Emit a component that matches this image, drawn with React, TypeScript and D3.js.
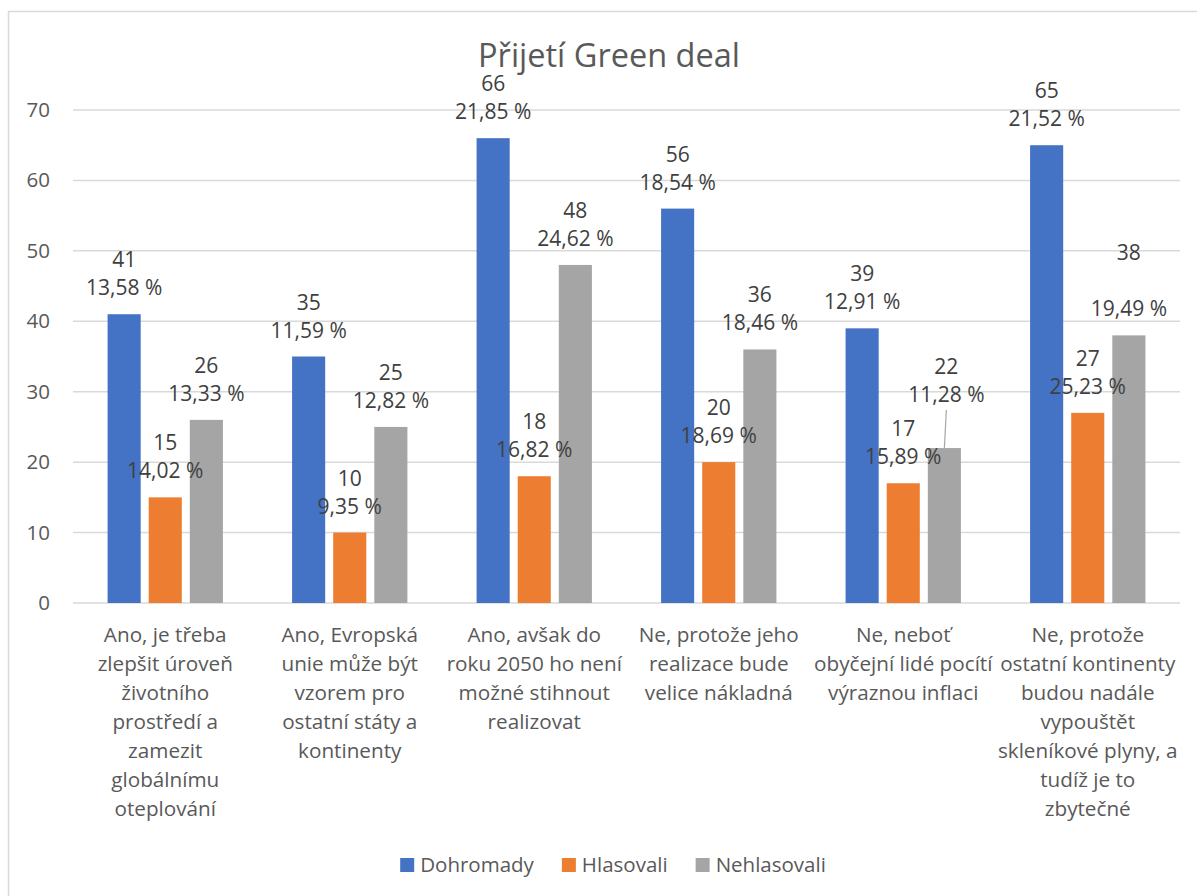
import React, { useEffect, useRef } from "react";
import * as d3 from "d3";

const title = "Přijetí Green deal";
const categories: string[][] = [
  ["Ano, je třeba", "zlepšit úroveň", "životního", "prostředí a", "zamezit", "globálnímu", "oteplování"],
  ["Ano, Evropská", "unie může být", "vzorem pro", "ostatní státy a", "kontinenty"],
  ["Ano, avšak do", "roku 2050 ho není", "možné stihnout", "realizovat"],
  ["Ne, protože jeho", "realizace bude", "velice nákladná"],
  ["Ne, neboť", "obyčejní lidé pocítí", "výraznou inflaci"],
  ["Ne, protože", "ostatní kontinenty", "budou nadále", "vypouštět", "skleníkové plyny, a", "tudíž je to", "zbytečné"],
];
const seriesNames = ["Dohromady", "Hlasovali", "Nehlasovali"];
const dohromady = [41, 35, 66, 56, 39, 65];
const hlasovali = [15, 10, 18, 20, 17, 27];
const nehlasovali = [26, 25, 48, 36, 22, 38];
const dohromadyPct = ["13,58 %", "11,59 %", "21,85 %", "18,54 %", "12,91 %", "21,52 %"];
const hlasovaliPct = ["14,02 %", "9,35 %", "16,82 %", "18,69 %", "15,89 %", "25,23 %"];
const nehlasovaliPct = ["13,33 %", "12,82 %", "24,62 %", "18,46 %", "11,28 %", "19,49 %"];
const yTicks = [0, 10, 20, 30, 40, 50, 60, 70];

const colors = ["#4472C4", "#ED7D31", "#A5A5A5"];
const textColor = "#595959";
const gridColor = "#d9d9d9";
const font = "'Open Sans', 'Noto Sans', sans-serif";

export default function App() {
  const ref = useRef<SVGSVGElement>(null);
  useEffect(() => {
    const svg = d3.select(ref.current);
    svg.selectAll("*").remove();
    const left = 73, right = 1180, top = 110, bottom = 603;

    svg.append("rect").attr("x", 8.5).attr("y", 11.5).attr("width", 1300).attr("height", 1000)
      .attr("fill", "#fff").attr("stroke", gridColor).attr("stroke-width", 1.5);

    const values = [dohromady, hlasovali, nehlasovali];
    const pcts = [dohromadyPct, hlasovaliPct, nehlasovaliPct];

    const y = d3.scaleLinear().domain([0, 70]).range([bottom, top]);
    const x0 = d3.scaleBand<number>().domain(categories.map((_, i) => i)).range([left, right])
      .paddingInner(0.375).paddingOuter(0.1875);
    const x1 = d3.scaleBand<number>().domain([0, 1, 2]).range([0, x0.bandwidth()])
      .paddingInner(0.195).paddingOuter(0);

    // grid
    svg.append("g").selectAll("line").data(yTicks).join("line")
      .attr("x1", left).attr("x2", right)
      .attr("y1", (d) => y(d)).attr("y2", (d) => y(d))
      .attr("stroke", gridColor).attr("stroke-width", 1.5);

    svg.append("g").selectAll("text").data(yTicks).join("text")
      .attr("x", 50).attr("y", (d) => y(d) + 7)
      .attr("text-anchor", "end").attr("font-family", font).attr("font-size", 20.5)
      .attr("fill", textColor).text((d) => d);

    // bars
    values.forEach((vals, s) => {
      svg.append("g").selectAll("rect").data(vals).join("rect")
        .attr("x", (_, i) => (x0(i) as number) + (x1(s) as number))
        .attr("width", x1.bandwidth())
        .attr("y", (d) => y(d))
        .attr("height", (d) => y(0) - y(d))
        .attr("fill", colors[s]);
    });

    // labels
    const labelShift: Record<string, [number, number]> = { "2-4": [2, -27] };
    const lh = 28;
    values.forEach((vals, s) => {
      vals.forEach((v, i) => {
        const cx = (x0(i) as number) + (x1(s) as number) + x1.bandwidth() / 2;
        const shift = labelShift[`${s}-${i}`] || [0, 0];
        const lines = s === 2 && i === 5 ? [String(v), "", pcts[s][i]] : [String(v), pcts[s][i]];
        const baseLast = y(v) - 19 + shift[1];
        const lx = cx + shift[0];
        if (shift[1] !== 0) {
          svg.append("line").attr("x1", lx).attr("y1", baseLast + 8).attr("x2", cx).attr("y2", y(v))
            .attr("stroke", "#a6a6a6").attr("stroke-width", 1.2);
        }
        const t = svg.append("text").attr("text-anchor", "middle").attr("font-family", font)
          .attr("font-size", 21).attr("fill", "#404040");
        lines.forEach((ln, k) => {
          t.append("tspan").attr("x", lx).attr("y", baseLast - (lines.length - 1 - k) * lh).text(ln);
        });
      });
    });

    // category labels
    categories.forEach((lines, i) => {
      const cx = (x0(i) as number) + x0.bandwidth() / 2;
      const t = svg.append("text").attr("text-anchor", "middle").attr("font-family", font)
        .attr("font-size", 20.7).attr("fill", textColor);
      lines.forEach((ln, k) => {
        t.append("tspan").attr("x", cx).attr("y", 642 + k * 29).text(ln);
      });
    });

    // title
    svg.append("text").attr("x", 609).attr("y", 67).attr("text-anchor", "middle")
      .attr("font-family", font).attr("font-size", 32.5).attr("fill", textColor).text(title);

    // legend
    const lg = svg.append("g");
    let cur = 0;
    seriesNames.forEach((n, s) => {
      lg.append("rect").attr("x", cur).attr("y", 858).attr("width", 14).attr("height", 14).attr("fill", colors[s]);
      const tx = lg.append("text").attr("x", cur + 20).attr("y", 872).attr("font-family", font)
        .attr("font-size", 20.5).attr("fill", textColor).text(n);
      const w = (tx.node() as SVGTextElement).getComputedTextLength();
      cur += 20 + w + 28;
    });
    const total = cur - 28;
    lg.attr("transform", `translate(${613 - total / 2},0)`);
  }, []);
  return (
    <svg ref={ref} width={1197} height={896}
      style={{ position: "absolute", left: 0, top: 0, background: "#fff" }} />
  );
}
